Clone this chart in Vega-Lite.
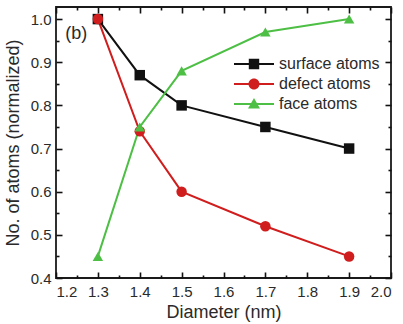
{
  "$schema": "https://vega.github.io/schema/vega-lite/v6.json",
  "width": 335,
  "height": 271,
  "autosize": {"type": "none"},
  "padding": {"left": 56, "top": 7, "right": 12, "bottom": 46},
  "background": "white",
  "config": {
    "view": {"stroke": "#1a1a1a", "strokeWidth": 1.8},
    "font": "Liberation Sans",
    "axis": {"domain": false, "grid": false, "labelFont": "Liberation Sans", "titleFont": "Liberation Sans", "labelColor": "#2a2a2a", "titleColor": "#2a2a2a"}
  },
  "data": {
    "values": [
      {"series": "surface atoms", "d": 1.3, "v": 1.0},
      {"series": "surface atoms", "d": 1.4, "v": 0.87},
      {"series": "surface atoms", "d": 1.5, "v": 0.80},
      {"series": "surface atoms", "d": 1.7, "v": 0.75},
      {"series": "surface atoms", "d": 1.9, "v": 0.70},
      {"series": "defect atoms", "d": 1.3, "v": 1.0},
      {"series": "defect atoms", "d": 1.4, "v": 0.74},
      {"series": "defect atoms", "d": 1.5, "v": 0.60},
      {"series": "defect atoms", "d": 1.7, "v": 0.52},
      {"series": "defect atoms", "d": 1.9, "v": 0.45},
      {"series": "face atoms", "d": 1.3, "v": 0.45},
      {"series": "face atoms", "d": 1.4, "v": 0.75},
      {"series": "face atoms", "d": 1.5, "v": 0.88},
      {"series": "face atoms", "d": 1.7, "v": 0.97},
      {"series": "face atoms", "d": 1.9, "v": 1.0}
    ]
  },
  "resolve": {
    "scale": {"color": "independent", "shape": "independent"},
    "axis": {"x": "independent", "y": "independent"}
  },
  "layer": [
    {
      "mark": {"type": "line", "strokeWidth": 2},
      "encoding": {
        "x": {"field": "d", "type": "quantitative", "scale": {"domain": [1.2, 2.0], "nice": false, "zero": false},
              "axis": {"orient": "bottom", "title": "Diameter (nm)", "values": [1.2, 1.25, 1.3, 1.35, 1.4, 1.45, 1.5, 1.55, 1.6, 1.65, 1.7, 1.75, 1.8, 1.85, 1.9, 1.95, 2.0],
                       "labelExpr": "abs(datum.value*10 - round(datum.value*10)) < 0.001 ? format(datum.value, '.1f') : ''",
                       "tickColor": "#111111", "tickWidth": 1.6,
                       "tickSize": {"condition": {"test": "abs(datum.value*10 - round(datum.value*10)) < 0.001", "value": -6}, "value": -3},
                       "labelPadding": 12, "labelFontSize": 15, "titleFontSize": 18, "titleFontWeight": "normal", "titlePadding": 4}},
        "y": {"field": "v", "type": "quantitative", "scale": {"domain": [0.4, 1.028], "nice": false, "zero": false},
              "axis": {"orient": "left", "title": "No. of atoms (normalized)", "values": [0.4, 0.45, 0.5, 0.55, 0.6, 0.65, 0.7, 0.75, 0.8, 0.85, 0.9, 0.95, 1.0],
                       "labelExpr": "abs(datum.value*10 - round(datum.value*10)) < 0.001 ? format(datum.value, '.1f') : ''",
                       "tickColor": "#111111", "tickWidth": 1.6,
                       "tickSize": {"condition": {"test": "abs(datum.value*10 - round(datum.value*10)) < 0.001", "value": -6}, "value": -3},
                       "labelPadding": 11, "labelFontSize": 15, "titleFontSize": 18, "titleFontWeight": "normal", "titlePadding": 8}},
        "color": {"field": "series", "type": "nominal", "legend": null,
                  "scale": {"domain": ["surface atoms", "defect atoms", "face atoms"], "range": ["#111111", "#d01d1d", "#4dbf45"]}}
      }
    },
    {
      "mark": {"type": "point", "filled": true, "opacity": 1},
      "encoding": {
        "x": {"field": "d", "type": "quantitative", "scale": {"domain": [1.2, 2.0], "nice": false, "zero": false},
              "axis": {"orient": "top", "title": null, "labels": false, "tickColor": "#111111", "tickWidth": 1.6, "values": [1.2, 1.25, 1.3, 1.35, 1.4, 1.45, 1.5, 1.55, 1.6, 1.65, 1.7, 1.75, 1.8, 1.85, 1.9, 1.95, 2.0],
                       "tickSize": {"condition": {"test": "abs(datum.value*10 - round(datum.value*10)) < 0.001", "value": -6}, "value": -3}}},
        "y": {"field": "v", "type": "quantitative", "scale": {"domain": [0.4, 1.028], "nice": false, "zero": false},
              "axis": {"orient": "right", "title": null, "labels": false, "tickColor": "#111111", "tickWidth": 1.6, "values": [0.4, 0.45, 0.5, 0.55, 0.6, 0.65, 0.7, 0.75, 0.8, 0.85, 0.9, 0.95, 1.0],
                       "tickSize": {"condition": {"test": "abs(datum.value*10 - round(datum.value*10)) < 0.001", "value": -6}, "value": -3}}},
        "color": {"field": "series", "type": "nominal", "legend": null,
                  "scale": {"domain": ["surface atoms", "defect atoms", "face atoms"], "range": ["#111111", "#d01d1d", "#4dbf45"]}},
        "shape": {"field": "series", "type": "nominal", "legend": null,
                  "scale": {"domain": ["surface atoms", "defect atoms", "face atoms"], "range": ["square", "circle", "triangle-up"]}},
        "size": {"field": "series", "type": "nominal", "legend": null,
                 "scale": {"domain": ["surface atoms", "defect atoms", "face atoms"], "range": [110, 110, 120]}}
      }
    },
    {
      "mark": {"type": "point", "filled": true, "opacity": 0},
      "encoding": {
        "x": {"field": "d", "type": "quantitative", "scale": {"domain": [1.2, 2.0], "nice": false, "zero": false}, "axis": null},
        "y": {"field": "v", "type": "quantitative", "scale": {"domain": [0.4, 1.028], "nice": false, "zero": false}, "axis": null},
        "color": {"field": "series", "type": "nominal",
                  "scale": {"domain": ["surface atoms", "defect atoms", "face atoms"], "range": ["#111111", "#d01d1d", "#4dbf45"]},
                  "legend": {"title": null, "orient": "none", "legendX": 190, "legendY": 49, "padding": 0, "rowPadding": 4, "symbolSize": 100, "symbolOpacity": 1, "symbolStrokeWidth": 0, "labelOffset": 17, "labelFont": "Liberation Sans", "labelFontSize": 16, "labelColor": "#2a2a2a"}},
        "shape": {"field": "series", "type": "nominal",
                  "scale": {"domain": ["surface atoms", "defect atoms", "face atoms"],
                            "range": [
                              "M-4,-0.18H4V0.18H-4Z M-1.04,-1.04H1.04V1.04H-1.04Z",
                              "M-4,-0.18H4V0.18H-4Z M1.1,0A1.1,1.1 0 1,1 -1.1,0A1.1,1.1 0 1,1 1.1,0Z",
                              "M-4,-0.18H4V0.18H-4Z M0,-1.2L1.2,0.9L-1.2,0.9Z"
                            ]},
                  "legend": {"title": null, "orient": "none", "legendX": 190, "legendY": 49, "padding": 0, "rowPadding": 4, "symbolSize": 100, "symbolOpacity": 1, "symbolStrokeWidth": 0, "labelOffset": 17, "labelFont": "Liberation Sans", "labelFontSize": 16, "labelColor": "#2a2a2a"}}
      }
    },
    {
      "data": {"values": [{"label": "(b)"}]},
      "mark": {"type": "text", "align": "left", "baseline": "alphabetic", "font": "Liberation Sans", "fontSize": 18, "color": "#2a2a2a"},
      "encoding": {
        "x": {"datum": 1.222, "type": "quantitative", "scale": {"domain": [1.2, 2.0], "nice": false, "zero": false}, "axis": null},
        "y": {"datum": 0.955, "type": "quantitative", "scale": {"domain": [0.4, 1.028], "nice": false, "zero": false}, "axis": null},
        "text": {"field": "label", "type": "nominal"}
      }
    }
  ]
}
